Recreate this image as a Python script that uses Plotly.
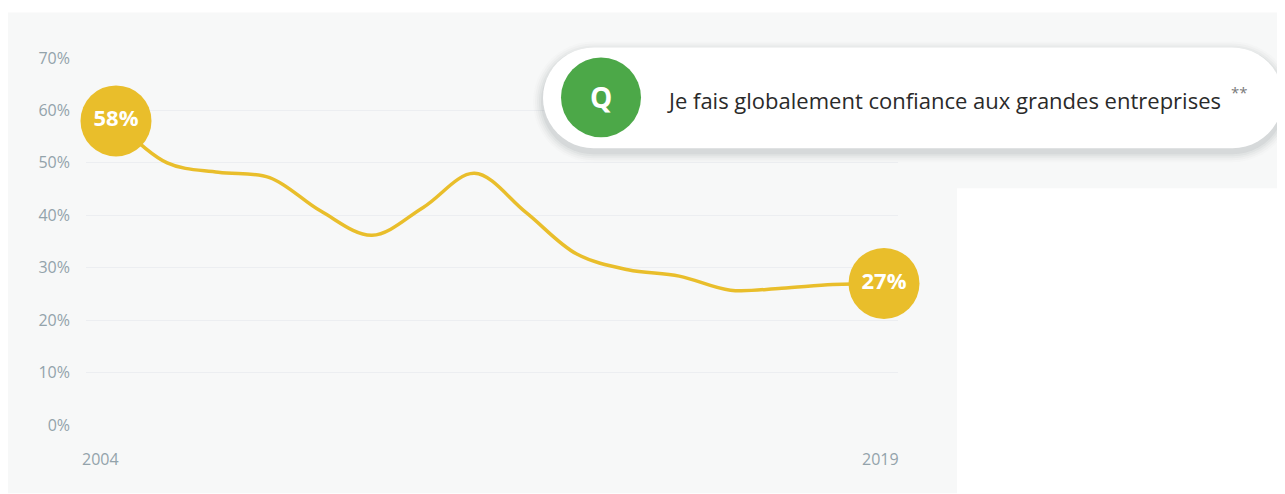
import plotly.graph_objects as go
import math

# ---- data ----
years = [2004, 2005, 2006, 2007, 2008, 2009, 2010, 2011, 2012, 2013, 2014, 2015, 2016, 2017, 2018, 2019]
values = [58, 50.0, 48.2, 47.2, 40.8, 36.2, 41.5, 48.0, 40.6, 32.6, 29.6, 28.4, 25.7, 26.1, 26.8, 27]
y_ticks = [0, 10, 20, 30, 40, 50, 60, 70]
y_tick_labels = ["0%", "10%", "20%", "30%", "40%", "50%", "60%", "70%"]
x_tick_years = [2004, 2019]
question_text = "Je fais globalement confiance aux grandes entreprises"
question_mark = "**"

W, H = 1285, 494
OFF = 8  # page body margin
L, R, T, B = 86, 898, 57.5, 425.5  # plot area in reference pixels

YELLOW = "#E9BE2B"
GREEN = "#4CA848"
TICK_COLOR = "#93a3ab"
GRID_COLOR = "#eceef1"
BG_GRAY = "#f7f8f8"


def px(x):
    return (x - L) / (R - L)


def py(y):
    return (B - y) / (B - T)


def pill_path(x0, y0, x1, y1, r, n=24):
    pts = []
    cx, cy = x1 - r, (y0 + y1) / 2
    for i in range(n + 1):
        a = -math.pi / 2 + math.pi * i / n
        pts.append((cx + r * math.cos(a), cy + r * math.sin(a)))
    cx = x0 + r
    for i in range(n + 1):
        a = math.pi / 2 + math.pi * i / n
        pts.append((cx + r * math.cos(a), cy + r * math.sin(a)))
    return "M " + " L ".join(f"{px(a):.5f},{py(b):.5f}" for a, b in pts) + " Z"


fig = go.Figure()

fig.add_trace(go.Scatter(
    x=years, y=values, mode="lines",
    line=dict(color=YELLOW, width=3.5, shape="spline", smoothing=1.0),
    hoverinfo="skip", showlegend=False,
))

end_x = [years[0], years[-1]]
end_y = [values[0], values[-1]]
fig.add_trace(go.Scatter(
    x=end_x, y=end_y, mode="markers+text",
    marker=dict(size=71, color=YELLOW, line=dict(width=0)),
    text=[f"{v:.0f}%" for v in end_y],
    textposition="middle center",
    textfont=dict(family="Open Sans", size=22, color="white", weight="bold"),
    cliponaxis=False, hoverinfo="skip", showlegend=False,
))

shapes = []
shapes.append(dict(type="rect", xref="paper", yref="paper", layer="below",
                   x0=px(7), x1=px(957), y0=py(494), y1=py(12),
                   fillcolor=BG_GRAY, line=dict(width=0)))
shapes.append(dict(type="rect", xref="paper", yref="paper", layer="below",
                   x0=px(957), x1=px(1300), y0=py(188), y1=py(12),
                   fillcolor=BG_GRAY, line=dict(width=0)))
for k, a in [(10, 0.02), (8, 0.03), (6, 0.04), (4, 0.05), (2, 0.07)]:
    shapes.append(dict(type="path", xref="paper", yref="paper", layer="above",
                       path=pill_path(543 - k, 47 - k + 4, 1283 + k, 148 + k + 4, 50.5 + k),
                       fillcolor=f"rgba(80,90,100,{a})", line=dict(width=0)))
shapes.append(dict(type="path", xref="paper", yref="paper", layer="above",
                   path=pill_path(543, 47, 1283, 148, 50.5),
                   fillcolor="white", line=dict(width=0)))
shapes.append(dict(type="circle", xref="paper", yref="paper", layer="above",
                   x0=px(561), x1=px(641), y0=py(137), y1=py(57),
                   fillcolor=GREEN, line=dict(width=0)))

annotations = []
annotations.append(dict(xref="paper", yref="paper", x=px(601), y=py(97),
                        text="<b>Q</b>", showarrow=False,
                        font=dict(family="Open Sans", size=28, color="white"),
                        xanchor="center", yanchor="middle"))
annotations.append(dict(xref="paper", yref="paper", x=px(665), y=py(100),
                        text=question_text,
                        showarrow=False,
                        font=dict(family="Open Sans", size=22, color="#2a2a2a"),
                        xanchor="left", yanchor="middle"))
annotations.append(dict(xref="paper", yref="paper", x=px(1229), y=py(92),
                        text=question_mark,
                        showarrow=False,
                        font=dict(family="Open Sans", size=15, color="#7a7a7a"),
                        xanchor="left", yanchor="middle"))
x_shifts = {2004: -16, 2019: -4}
for yr in x_tick_years:
    annotations.append(dict(xref="x", yref="paper", x=yr, y=py(460),
                            text=str(yr), showarrow=False,
                            xshift=x_shifts.get(yr, 0),
                            font=dict(family="Open Sans", size=16, color=TICK_COLOR),
                            xanchor="center", yanchor="middle"))

fig.update_layout(
    width=W, height=H,
    margin=dict(l=L - OFF, r=W - (R - OFF), t=T - OFF, b=H - (B - OFF), pad=0),
    paper_bgcolor="white", plot_bgcolor="rgba(0,0,0,0)",
    shapes=shapes, annotations=annotations,
    xaxis=dict(range=[2004 - 30 / 51.2, 2019 + 14 / 51.2], showgrid=False,
               zeroline=False, showticklabels=False, showline=False, fixedrange=True),
    yaxis=dict(range=[0, 70], tickvals=y_ticks, ticktext=y_tick_labels,
               showgrid=True, gridcolor=GRID_COLOR, gridwidth=1.2,
               zeroline=False, showline=False, ticks="",
               ticklabelstandoff=15,
               tickfont=dict(family="Open Sans", size=16, color=TICK_COLOR),
               fixedrange=True),
    showlegend=False,
)

fig.write_html("out.html", config={"displayModeBar": False})
